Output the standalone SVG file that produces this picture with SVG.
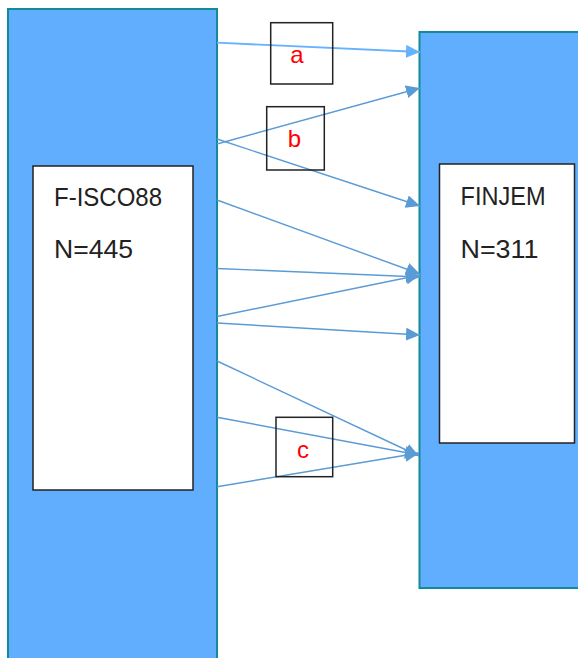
<svg xmlns="http://www.w3.org/2000/svg" width="578" height="658" viewBox="0 0 578 658">
<style>
.outer{fill:#62aefe;stroke:#138a98;stroke-width:2}
.inner{fill:#ffffff;stroke:#222;stroke-width:1.5}
.lbl{fill:none;stroke:#222;stroke-width:1.5}
.t{font-family:"Liberation Sans",Arial,sans-serif;font-size:26px;fill:#222}
.r{font-family:"Liberation Sans",Arial,sans-serif;font-size:24px;fill:#ff0000;text-anchor:middle}
.c{stroke:#5b9bd5;stroke-width:1.4;fill:none;marker-end:url(#ah)}
.c1{stroke:#66b2ff;stroke-width:1.8;fill:none;marker-end:url(#ah1)}
</style>
<defs>
<marker id="ah" markerUnits="userSpaceOnUse" markerWidth="16" markerHeight="14" refX="14" refY="6.5" orient="auto">
<path d="M0,0 L14,6.5 L0,13 z" fill="#5b9bd5"/>
</marker>
<marker id="ah1" markerUnits="userSpaceOnUse" markerWidth="16" markerHeight="14" refX="14" refY="6.5" orient="auto">
<path d="M0,0 L14,6.5 L0,13 z" fill="#66b2ff"/>
</marker>
</defs>
<g id="fisco">
<rect class="outer" x="8" y="9" width="209" height="660"/>
<rect class="inner" x="33" y="166" width="160" height="324"/>
<text class="t" x="54" y="205.5" textLength="108" lengthAdjust="spacingAndGlyphs">F-ISCO88</text>
<text class="t" x="54" y="258" textLength="79" lengthAdjust="spacingAndGlyphs">N=445</text>
</g>
<g id="finjem">
<rect class="outer" x="419.5" y="32" width="170" height="556"/>
<rect class="inner" x="439.5" y="164" width="135" height="279"/>
<text class="t" x="460.5" y="205" textLength="85" lengthAdjust="spacingAndGlyphs">FINJEM</text>
<text class="t" x="460.5" y="258" textLength="78" lengthAdjust="spacingAndGlyphs">N=311</text>
</g>
<g id="connectors">
<line class="c1" x1="217" y1="42.7" x2="420" y2="52"/>
<line class="c" x1="217" y1="144" x2="420" y2="88"/>
<line class="c" x1="217" y1="139" x2="420" y2="206"/>
<line class="c" x1="217" y1="200" x2="420" y2="274"/>
<line class="c" x1="217" y1="268.5" x2="420" y2="277"/>
<line class="c" x1="217" y1="316.5" x2="420" y2="275"/>
<line class="c" x1="217" y1="323" x2="420" y2="335"/>
<line class="c" x1="217" y1="361" x2="419" y2="456"/>
<line class="c" x1="217" y1="417.3" x2="419" y2="455"/>
<line class="c" x1="217" y1="486.7" x2="419" y2="453"/>
</g>
<g id="label-a">
<rect class="lbl" x="270.7" y="22.7" width="62" height="61.3"/>
<text class="r" x="297" y="63">a</text>
</g>
<g id="label-b">
<rect class="lbl" x="266.7" y="106.7" width="57.6" height="63.3"/>
<text class="r" x="294.5" y="146.5">b</text>
</g>
<g id="label-c">
<rect class="lbl" x="276" y="417.3" width="56.7" height="59.4"/>
<text class="r" x="303" y="457.5">c</text>
</g>
</svg>
